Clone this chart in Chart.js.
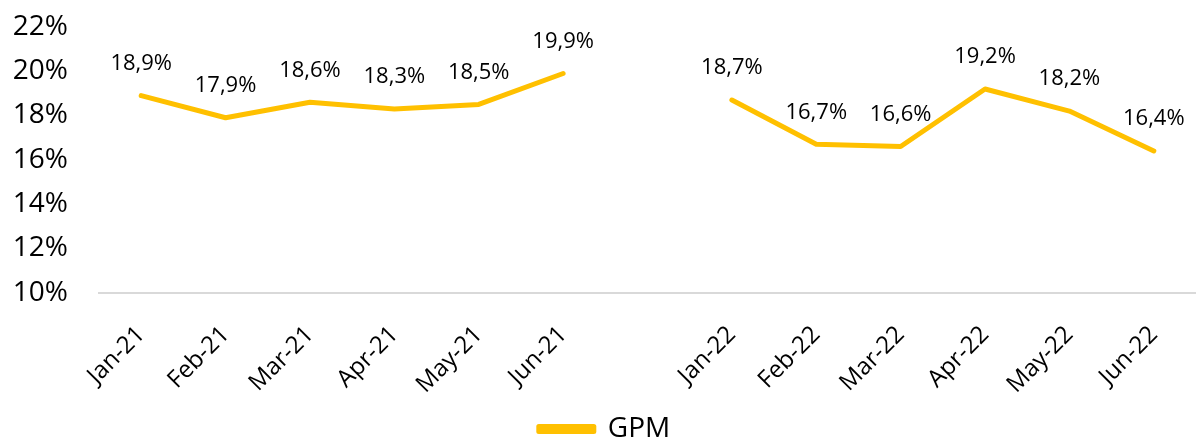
<!DOCTYPE html>
<html>
<head>
<meta charset="utf-8">
<script src="https://cdn.jsdelivr.net/npm/chart.js@4/dist/chart.umd.min.js"></script>
<style>
  html, body { margin: 0; padding: 0; background: #fff; }
  #wrap { width: 1196px; height: 440px; position: relative; }
</style>
</head>
<body>
<div id="wrap"><canvas id="c"></canvas></div>
<script>
// Monthly gross profit margin, H1 2021 and H1 2022 (blank slot separates the halves)
const categories = ['Jan-21', 'Feb-21', 'Mar-21', 'Apr-21', 'May-21', 'Jun-21', '',
                    'Jan-22', 'Feb-22', 'Mar-22', 'Apr-22', 'May-22', 'Jun-22'];
const gpm = [18.9, 17.9, 18.6, 18.3, 18.5, 19.9, null, 18.7, 16.7, 16.6, 19.2, 18.2, 16.4];
const yTicks = [10, 12, 14, 16, 18, 20, 22];

const FONT = '"Open Sans", "Noto Sans", sans-serif';
const GOLD = '#FFC000';

const fmt = v => v.toFixed(1).replace('.', ',') + '%';

// Writes each month's value above its point
const valueLabels = {
  id: 'valueLabels',
  afterDatasetsDraw(chart) {
    const ctx = chart.ctx;
    const meta = chart.getDatasetMeta(0);
    ctx.save();
    ctx.font = '22px ' + FONT;
    ctx.fillStyle = '#000';
    ctx.textAlign = 'center';
    ctx.textBaseline = 'middle';
    meta.data.forEach((pt, i) => {
      const v = chart.data.datasets[0].data[i];
      if (v === null || v === undefined) return;
      ctx.fillText(fmt(v), pt.x, pt.y - 32);
    });
    ctx.restore();
  }
};

new Chart(document.getElementById('c'), {
  type: 'line',
  data: {
    labels: categories,
    datasets: [{
      label: 'GPM',
      data: gpm,
      borderColor: GOLD,
      backgroundColor: GOLD,
      borderWidth: 5,
      borderJoinStyle: 'round',
      borderCapStyle: 'round',
      pointRadius: 0,
      pointHoverRadius: 0,
      spanGaps: false,
      tension: 0
    }]
  },
  options: {
    responsive: true,
    maintainAspectRatio: false,
    animation: false,
    layout: { padding: { top: 27, right: 0, left: 13, bottom: -13 } },
    plugins: {
      tooltip: { enabled: false },
      legend: {
        position: 'bottom',
        labels: {
          boxWidth: 55,
          boxHeight: 5,
          padding: 6,
          color: '#000',
          font: { family: FONT, size: 28 }
        }
      }
    },
    scales: {
      x: {
        offset: true,
        grid: { display: false, drawTicks: false },
        border: { display: true, color: '#d9d9d9', width: 2 },
        ticks: {
          color: '#000',
          font: { family: FONT, size: 24 },
          minRotation: 45,
          maxRotation: 45,
          autoSkip: false,
          padding: 28
        },
        // rotated labels may hang past the plot edges; keep the plot full width
        afterFit: axis => {
          axis.paddingLeft = 0;
          axis.paddingRight = 0;
          axis.height -= 18;
        }
      },
      y: {
        min: 10,
        max: 22,
        afterBuildTicks: axis => { axis.ticks = yTicks.map(v => ({ value: v })); },
        grid: { display: false, drawTicks: false },
        border: { display: false },
        ticks: {
          color: '#000',
          font: { family: FONT, size: 28 },
          padding: 31,
          callback: v => v + '%'
        },
        afterFit: axis => {
          axis.paddingTop = 0;
          axis.paddingBottom = 0;
          axis.width = 86;
        }
      }
    }
  },
  plugins: [valueLabels]
});
</script>
</body>
</html>
